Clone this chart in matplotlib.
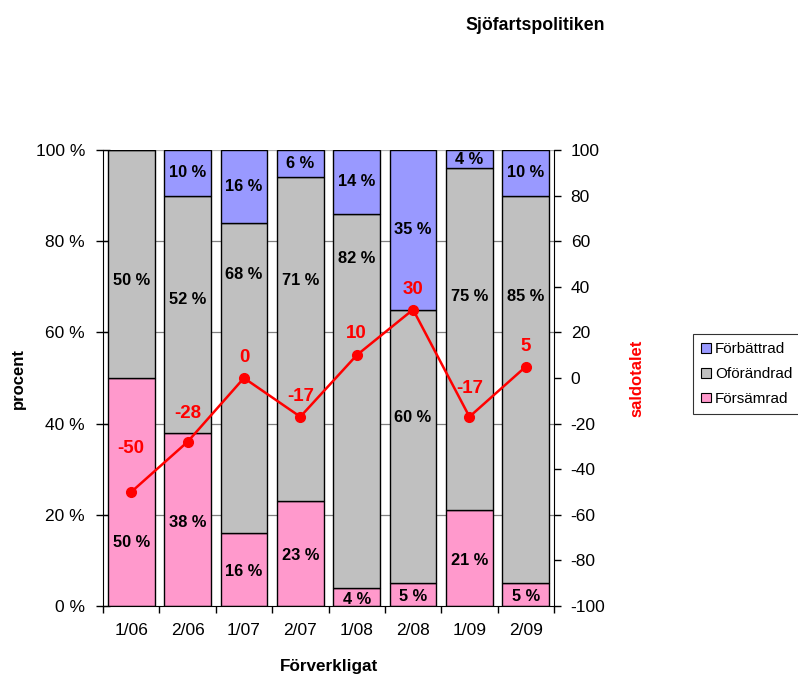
import matplotlib
matplotlib.use("Agg")
import matplotlib.pyplot as plt
import numpy as np
from matplotlib.patches import Patch

plt.rcParams['font.family'] = ['Liberation Sans', 'DejaVu Sans']

# --- data -----------------------------------------------------------------
periods = ["1/06", "2/06", "1/07", "2/07", "1/08", "2/08", "1/09", "2/09"]
worse = [50, 38, 16, 23, 4, 5, 21, 5]          # Försämrad
unchanged = [50, 52, 68, 71, 82, 60, 75, 85]   # Oförändrad
better = [0, 10, 16, 6, 14, 35, 4, 10]         # Förbättrad
balance = [-50, -28, 0, -17, 10, 30, -17, 5]   # saldotalet

# --- label layout (vertical placement of value labels) ----------------------
unchanged_label_y = [71.3, 67.3, 72.6, 71.3, 76.3, 41.4, 67.8, 67.8]
worse_label_y = [14, 18.4, 7.5, 11, 1.5, 2, 10, 2]
balance_label_y = [-31, -15.4, 9.2, -8.3, 19.3, 38.6, -4.8, 13.6]

c_better = "#9999FF"
c_unch = "#C0C0C0"
c_worse = "#FF99CC"
c_red = "#FF0000"

fig = plt.figure(figsize=(7.98, 6.74), dpi=100)
ax = fig.add_axes([103 / 798, 1 - 606 / 674, 451 / 798, 456 / 674])

x = np.arange(len(periods))
w = 0.83
worse_a = np.array(worse)
unch_a = np.array(unchanged)
better_a = np.array(better)

# horizontal gridlines behind bars
for g in [20, 40, 60, 80, 100]:
    ax.axhline(g, color="#808080" if g < 100 else "#B0B0B0", lw=0.9, zorder=0)

ax.bar(x, worse_a, w, color=c_worse, edgecolor="black", lw=1, zorder=2)
ax.bar(x, unch_a, w, bottom=worse_a, color=c_unch, edgecolor="black", lw=1, zorder=2)
ax.bar(x, better_a, w, bottom=worse_a + unch_a, color=c_better, edgecolor="black",
       lw=1, zorder=2)

lab_kw = dict(ha="center", va="center", fontsize=11.8, fontweight="bold", zorder=5)
for i in range(len(periods)):
    ax.text(x[i], worse_label_y[i], f"{worse[i]} %", **lab_kw)
    ax.text(x[i], unchanged_label_y[i], f"{unchanged[i]} %", **lab_kw)
    if better[i] > 0:
        ax.text(x[i], worse[i] + unchanged[i] + better[i] / 2, f"{better[i]} %", **lab_kw)

ax.set_xlim(-0.5, len(periods) - 0.5)
ax.set_ylim(0, 100)
ax.set_yticks([0, 20, 40, 60, 80, 100])
ax.set_yticklabels([f"{v} %" for v in [0, 20, 40, 60, 80, 100]], fontsize=12.5)
ax.tick_params(axis="y", direction="inout", length=10, width=1, pad=8)

ax.set_xticks(x)
ax.set_xticklabels(periods, fontsize=12.5)
ax.set_xticks(np.arange(-0.5, len(periods)), minor=True)
ax.tick_params(axis="x", which="major", length=0, pad=12)
ax.tick_params(axis="x", which="minor", direction="out", length=5, width=1)

for s in ["top", "right"]:
    ax.spines[s].set_visible(False)
ax.spines["left"].set_color("black")
ax.spines["bottom"].set_color("black")

# secondary axis: balance figure
ax2 = ax.twinx()
ax2.set_ylim(-100, 100)
ax2.set_yticks(np.arange(-100, 101, 20))
ax2.set_yticklabels([str(v) for v in np.arange(-100, 101, 20)], fontsize=12.5)
ax2.tick_params(axis="y", direction="out", length=5, width=1, pad=7)
for s in ["top", "left", "bottom"]:
    ax2.spines[s].set_visible(False)
ax2.plot(x, balance, color=c_red, lw=1.8, marker="o", markersize=7, zorder=6)
for i in range(len(periods)):
    ax2.text(x[i], balance_label_y[i], str(balance[i]), ha="center", va="center",
             fontsize=13.5, fontweight="bold", color=c_red, zorder=7)

# titles and axis names
fig.text(535 / 798, 1 - 25 / 674, "Sjöfartspolitiken", ha="center", va="center",
         fontsize=12.8, fontweight="bold")
fig.text(18 / 798, 1 - 378 / 674, "procent", rotation=90, ha="center", va="center",
         fontsize=12, fontweight="bold")
fig.text(637 / 798, 1 - 378 / 674, "saldotalet", rotation=90, ha="center", va="center",
         fontsize=12, fontweight="bold", color=c_red)
fig.text(329 / 798, 1 - 667 / 674, "Förverkligat", ha="center", va="center",
         fontsize=12.3, fontweight="bold")

handles = [Patch(facecolor=c_better, edgecolor="black", lw=0.8, label="Förbättrad"),
           Patch(facecolor=c_unch, edgecolor="black", lw=0.8, label="Oförändrad"),
           Patch(facecolor=c_worse, edgecolor="black", lw=0.8, label="Försämrad")]
leg = fig.legend(handles=handles, loc="upper left",
                 bbox_to_anchor=(693 / 798, 1 - 334 / 674), fontsize=11,
                 frameon=True, fancybox=False, edgecolor="black",
                 handlelength=0.6, handleheight=0.6, handletextpad=0.3,
                 borderpad=0.55, labelspacing=0.7, borderaxespad=0)
leg.get_frame().set_linewidth(0.8)

fig.savefig("out.png", dpi=100)
